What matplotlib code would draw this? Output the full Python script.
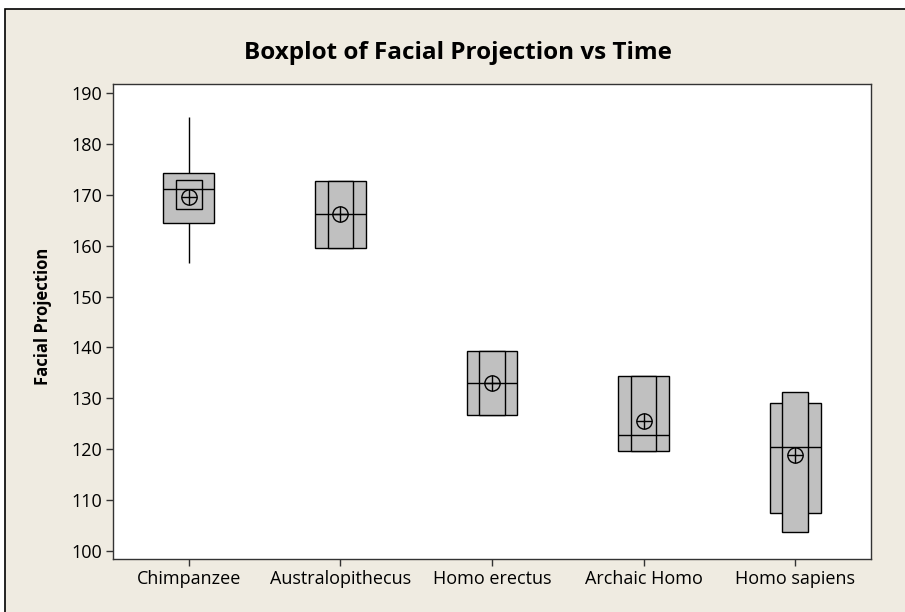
import numpy as np
import matplotlib
matplotlib.use('Agg')
import matplotlib.pyplot as plt
from matplotlib.patches import Rectangle

# Valeurs
groups = ['Chimpanzee', 'Australopithecus', 'Homo erectus', 'Archaic Homo', 'Homo sapiens']
q1 = [164.5, 159.5, 126.7, 119.7, 107.5]
q3 = [174.3, 172.7, 139.3, 134.3, 129.1]
median = [171.2, 166.3, 133.1, 122.8, 120.4]
mean = [169.5, 166.2, 133.0, 125.5, 118.8]
ci_lo = [167.2, 159.5, 126.7, 119.7, 103.7]
ci_hi = [172.9, 172.7, 139.3, 134.3, 131.2]
whisk_lo = [156.7, 159.5, 126.7, 119.7, 107.5]
whisk_hi = [185.3, 172.7, 139.3, 134.3, 129.1]
yticks = [100, 110, 120, 130, 140, 150, 160, 170, 180, 190]

plt.rcParams['font.family'] = ['Open Sans', 'DejaVu Sans']

fig = plt.figure(figsize=(9.05, 6.12), dpi=100, facecolor='white')
# fond beige avec bord noir en haut et à gauche
fig.patches.append(Rectangle((5 / 905, -0.1), 1.2, 1.1 - 9 / 612, transform=fig.transFigure,
                             facecolor='#efebe1', edgecolor='black', linewidth=1.2, zorder=-10))

ax = fig.add_axes([113 / 905, 53 / 612, 758 / 905, 475.5 / 612])
ax.set_facecolor('white')

x = np.arange(1, len(groups) + 1)
q1a, q3a = np.array(q1), np.array(q3)
cla, cha = np.array(ci_lo), np.array(ci_hi)

# whiskers
ax.vlines(x, q3a, whisk_hi, color='black', linewidth=1, zorder=1)
ax.vlines(x, whisk_lo, q1a, color='black', linewidth=1, zorder=1)
# IQR box
ax.bar(x, q3a - q1a, bottom=q1a, width=0.334, color='#c0c0c0', edgecolor='black', linewidth=1, zorder=2)
# confidence interval box
ax.bar(x, cha - cla, bottom=cla, width=0.168, color='#c0c0c0', edgecolor='black', linewidth=1, zorder=3)
# median
ax.hlines(median, x - 0.167, x + 0.167, color='black', linewidth=1, zorder=4)
# mean symbol
ax.plot(x, mean, linestyle='none', marker='o', markersize=11, markerfacecolor='none',
        markeredgecolor='black', markeredgewidth=1, zorder=5)
ax.plot(x, mean, linestyle='none', marker='+', markersize=11, markeredgecolor='black',
        markeredgewidth=1, zorder=5)

ax.set_xlim(0.5, 5.5)
ax.set_ylim(98.4, 191.9)
ax.set_xticks(x)
ax.set_xticklabels(groups)
ax.set_yticks(yticks)
ax.tick_params(direction='out', length=5, width=1, color='#333333', labelsize=13, pad=3)
for s in ax.spines.values():
    s.set_color('#333333')
    s.set_linewidth(1)

ax.set_ylabel('Facial Projection', fontsize=12, fontweight='bold')
ax.yaxis.set_label_coords(-0.08, 0.51)
fig.text(458 / 905, 1 - 53 / 612, 'Boxplot of Facial Projection vs Time', ha='center', va='center',
         fontsize=17.5, fontweight='bold')

fig.savefig('out.png', dpi=100, facecolor=fig.get_facecolor())
